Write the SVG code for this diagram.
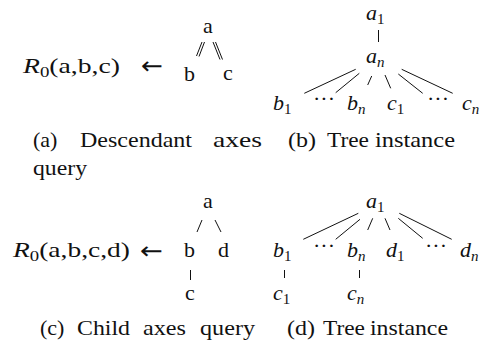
<svg xmlns="http://www.w3.org/2000/svg" width="485" height="346" viewBox="0 0 485 346">
<style>
text{font-family:"Liberation Serif","Times New Roman",serif;font-size:22px;fill:#111}
.it{font-style:italic}
.sub{font-size:15px;font-style:normal}
.sub.it{font-style:italic}
.arr{font-family:"DejaVu Sans",sans-serif;font-size:24px}
.e line{stroke:#111;stroke-width:1}
</style>
<rect width="485" height="346" fill="#fff"/>
<!-- (a) -->
<g id="qa-rule"><text x="23" y="73" textLength="97" lengthAdjust="spacingAndGlyphs"><tspan class="it">R</tspan><tspan class="sub" dy="3.5">0</tspan><tspan dy="-3.5">(a,b,c)</tspan></text></g>
<g id="qa-arrow"><text class="arr" x="141" y="74" textLength="22" lengthAdjust="spacingAndGlyphs">←</text></g>
<g id="qa-a"><text x="203" y="33">a</text></g>
<g id="qa-b"><text x="184" y="81">b</text></g>
<g id="qa-c"><text x="223" y="80">c</text></g>
<!-- (b) -->
<g id="tb-a1"><text class="it" x="366" y="20">a<tspan class="sub" dy="3.5">1</tspan></text></g>
<g id="tb-an"><text class="it" x="366" y="63">a<tspan class="sub it" dy="3.5">n</tspan></text></g>
<g id="tb-b1"><text class="it" x="273" y="110">b<tspan class="sub" dy="3.5">1</tspan></text></g>
<g id="tb-dots1"><text x="313" y="106">···</text></g>
<g id="tb-bn"><text class="it" x="347" y="110">b<tspan class="sub it" dy="3.5">n</tspan></text></g>
<g id="tb-c1"><text class="it" x="387" y="110">c<tspan class="sub" dy="3.5">1</tspan></text></g>
<g id="tb-dots2"><text x="427" y="106">···</text></g>
<g id="tb-cn"><text class="it" x="462" y="110">c<tspan class="sub it" dy="3.5">n</tspan></text></g>
<!-- captions top -->
<g id="cap-a"><text x="33" y="147">(a)</text><text x="80" y="147" textLength="112" lengthAdjust="spacingAndGlyphs">Descendant</text><text x="213" y="147" textLength="49" lengthAdjust="spacingAndGlyphs">axes</text><text x="33" y="175" textLength="54" lengthAdjust="spacingAndGlyphs">query</text></g>
<g id="cap-b"><text x="288" y="147" textLength="28" lengthAdjust="spacingAndGlyphs">(b)</text><text x="327" y="147" textLength="42" lengthAdjust="spacingAndGlyphs">Tree</text><text x="375" y="147" textLength="80" lengthAdjust="spacingAndGlyphs">instance</text></g>
<!-- (c) -->
<g id="qc-rule"><text x="13" y="257" textLength="117" lengthAdjust="spacingAndGlyphs"><tspan class="it">R</tspan><tspan class="sub" dy="3.5">0</tspan><tspan dy="-3.5">(a,b,c,d)</tspan></text></g>
<g id="qc-arrow"><text class="arr" x="140" y="259" textLength="23" lengthAdjust="spacingAndGlyphs">←</text></g>
<g id="qc-a"><text x="203" y="208">a</text></g>
<g id="qc-b"><text x="184" y="257">b</text></g>
<g id="qc-d"><text x="218" y="257">d</text></g>
<g id="qc-c"><text x="185" y="300">c</text></g>
<!-- (d) -->
<g id="td-a1"><text class="it" x="366" y="208">a<tspan class="sub" dy="3.5">1</tspan></text></g>
<g id="td-b1"><text class="it" x="273" y="257">b<tspan class="sub" dy="3.5">1</tspan></text></g>
<g id="td-dots1"><text x="313" y="253">···</text></g>
<g id="td-bn"><text class="it" x="347" y="257">b<tspan class="sub it" dy="3.5">n</tspan></text></g>
<g id="td-d1"><text class="it" x="386" y="257">d<tspan class="sub" dy="3.5">1</tspan></text></g>
<g id="td-dots2"><text x="425" y="253">···</text></g>
<g id="td-dn"><text class="it" x="460" y="257">d<tspan class="sub it" dy="3.5">n</tspan></text></g>
<g id="td-c1"><text class="it" x="273" y="300">c<tspan class="sub" dy="3.5">1</tspan></text></g>
<g id="td-cn"><text class="it" x="347" y="300">c<tspan class="sub it" dy="3.5">n</tspan></text></g>
<!-- captions bottom -->
<g id="cap-c"><text x="40" y="335">(c)</text><text x="77" y="335" textLength="53" lengthAdjust="spacingAndGlyphs">Child</text><text x="143" y="335" textLength="43" lengthAdjust="spacingAndGlyphs">axes</text><text x="200" y="335" textLength="55" lengthAdjust="spacingAndGlyphs">query</text></g>
<g id="cap-d"><text x="287" y="335" textLength="28" lengthAdjust="spacingAndGlyphs">(d)</text><text x="323" y="335" textLength="42" lengthAdjust="spacingAndGlyphs">Tree</text><text x="370" y="335" textLength="78" lengthAdjust="spacingAndGlyphs">instance</text></g>
<!-- connectors -->
<g id="edges" class="e">
<line x1="202" y1="42" x2="196.5" y2="56"/><line x1="204.5" y1="42" x2="199" y2="56.5"/>
<line x1="213" y1="42" x2="220" y2="59.5"/><line x1="215.5" y1="42" x2="222.5" y2="59.5"/>
<line x1="378.5" y1="30" x2="378.5" y2="42"/>
<line x1="355.7" y1="69.3" x2="304.3" y2="93.3"/>
<line x1="359.3" y1="73.3" x2="335.7" y2="92.7"/>
<line x1="371.7" y1="76" x2="367.7" y2="85"/>
<line x1="385" y1="75" x2="390.7" y2="88.3"/>
<line x1="398.3" y1="74" x2="422.7" y2="93.3"/>
<line x1="401.7" y1="69.3" x2="452.7" y2="93.3"/>
<line x1="202" y1="220" x2="197" y2="232"/>
<line x1="215" y1="220" x2="221" y2="232"/>
<line x1="190.5" y1="270" x2="190.5" y2="280"/>
<line x1="358.3" y1="213.3" x2="303.3" y2="239.3"/>
<line x1="360" y1="219.3" x2="335.7" y2="239.3"/>
<line x1="372.7" y1="218.3" x2="367.7" y2="230"/>
<line x1="385" y1="218.3" x2="390" y2="230"/>
<line x1="398.3" y1="218.3" x2="422.7" y2="238.3"/>
<line x1="399.3" y1="213.3" x2="451.7" y2="239.3"/>
<line x1="284.5" y1="270" x2="284.5" y2="278"/>
<line x1="359.5" y1="270" x2="359.5" y2="278"/>
</g>
</svg>
